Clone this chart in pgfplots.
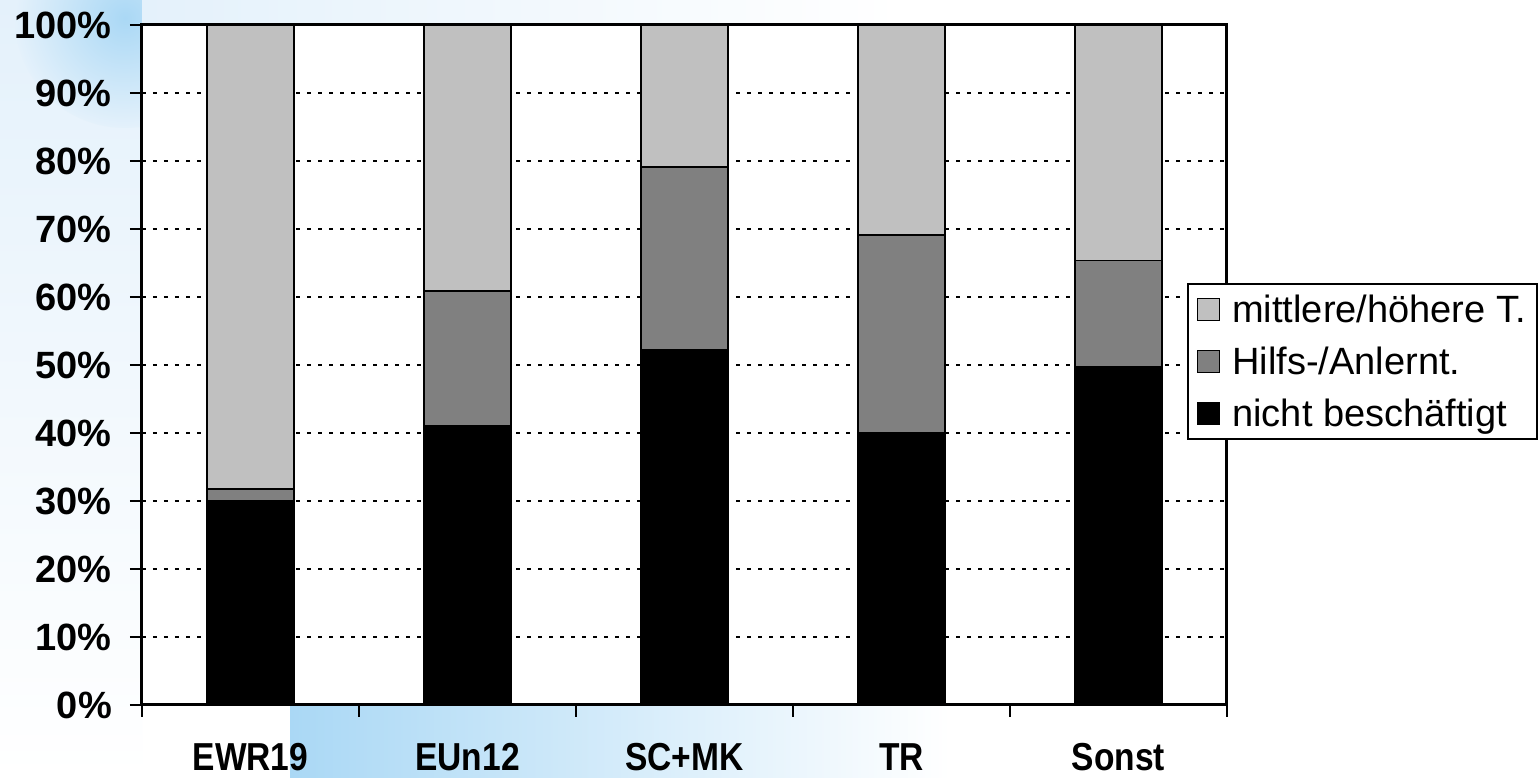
\documentclass[border=0pt]{standalone}
\usepackage{fontspec}
\setmainfont{Liberation Sans}
\newfontfamily\xlabfont[FakeStretch=0.86]{Liberation Sans}
\usepackage{pgfplots}
\pgfplotsset{compat=1.18}
\definecolor{lightg}{HTML}{C0C0C0}
\definecolor{darkg}{HTML}{808080}
\definecolor{bgA}{RGB}{170,216,245}
\definecolor{bgB}{RGB}{228,241,251}
\begin{document}
\begin{tikzpicture}
\useasboundingbox (0,0) rectangle (1539pt,778pt);
\fill[white] (0,0) rectangle (1539pt,778pt);
\shade[top color=bgB, bottom color=white] (0,0) rectangle (142pt,778pt);
\begin{scope}
\clip (0,0) rectangle (142pt,778pt);
\shade[inner color=bgA, outer color=bgB] (125pt,760pt) circle (110pt);
\end{scope}
\shade[left color=bgA, right color=white] (290pt,0) rectangle (950pt,73pt);
\shade[left color=bgB, right color=white] (142pt,753pt) rectangle (900pt,778pt);
\begin{axis}[
  at={(142pt,73pt)}, anchor=south west,
  scale only axis, width=1085pt, height=680pt,
  ybar stacked, bar width=87pt,
  xmin=-0.5, xmax=4.5, ymin=0, ymax=100,
  axis background/.style={fill=white},
  axis line style={line width=3pt, black},
  ytick={0,10,...,100},
  yticklabels={0\%,10\%,20\%,30\%,40\%,50\%,60\%,70\%,80\%,90\%,100\%},
  xtick={-0.5,0.5,1.5,2.5,3.5,4.5}, xticklabels={},
  extra x ticks={0,1,2,3,4},
  extra x tick labels={EWR19,EUn12,SC+MK,TR,Sonst},
  extra x tick style={major tick length=0pt, xticklabel style={anchor=base, inner sep=0pt, yshift=-66pt, font=\xlabfont\fontsize{39}{46}\selectfont\bfseries}},
  tick align=outside, major tick length=12pt,
  tick style={line width=2pt, black},
  xtick pos=bottom, ytick pos=left,
  ymajorgrids,
  grid style={line width=2pt, dash pattern=on 4pt off 7pt, black},
  tick label style={font=\fontsize{38}{45}\selectfont\bfseries},
  yticklabel style={anchor=east, inner sep=0pt, xshift=-18pt},
  legend style={font=\fontsize{38}{45}\selectfont, at={(0.963,0.6206)}, anchor=north west,
    draw=black, line width=2pt, fill=white, row sep=19pt, inner xsep=9pt, inner ysep=9pt},
  reverse legend, legend cell align=left,
  legend image code/.code={\draw[#1, draw=black, line width=1.5pt] (0pt,-11pt) rectangle (22pt,11pt); \path (0pt,0pt) (32pt,0pt);},
]
\addplot[fill=black, draw=black, line width=1.5pt] coordinates {(0,30) (1,41) (2,52.2) (3,40) (4,49.7)};
\addplot[fill=darkg, draw=black, line width=1.5pt] coordinates {(0,1.8) (1,19.9) (2,26.9) (3,29.1) (4,15.7)};
\addplot[fill=lightg, draw=black, line width=1.5pt] coordinates {(0,68.2) (1,39.1) (2,20.9) (3,30.9) (4,34.6)};
\legend{nicht beschäftigt, Hilfs-/Anlernt., mittlere/höhere T.}
\end{axis}
\end{tikzpicture}
\end{document}
